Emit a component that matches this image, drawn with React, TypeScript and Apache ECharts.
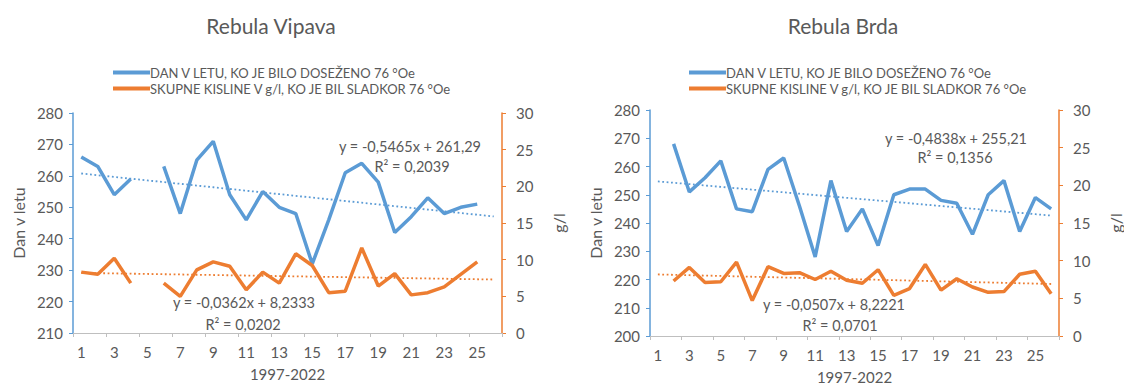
import React, { useEffect, useRef } from "react";
import * as echarts from "echarts";

// Years 1997-2022 numbered 1..26
const categories: string[] = Array.from({ length: 26 }, (_, i) => String(i + 1));

// Rebula Vipava
const vipavaDay: (number | null)[] = [
  266, 263, 254, 259, null, 263, 248, 265, 271, 254, 246, 255, 250, 248, 232,
  246, 261, 264, 258, 242, 247, 253, 248, 250, 251, null,
];
const vipavaAcid: (number | null)[] = [
  8.3, 8.0, 10.2, 6.8, null, 6.8, 5.0, 8.6, 9.7, 9.1, 5.9, 8.3, 6.8, 10.8, 9.2,
  5.5, 5.7, 11.6, 6.4, 8.1, 5.2, 5.5, 6.3, 8.0, 9.7, null,
];
const vipavaDayTrend = { slope: -0.5465, intercept: 261.29, r2: "0,2039", eq: "y = -0,5465x + 261,29" };
const vipavaAcidTrend = { slope: -0.0362, intercept: 8.2333, r2: "0,0202", eq: "y = -0,0362x + 8,2333" };

// Rebula Brda
const brdaDay: (number | null)[] = [
  null, 268, 251, 256, 262, 245, 244, 259, 263, 246, 228, 255, 237, 245, 232,
  250, 252, 252, 248, 247, 236, 250, 255, 237, 249, 245,
];
const brdaAcid: (number | null)[] = [
  null, 7.3, 9.1, 7.1, 7.2, 9.8, 4.7, 9.2, 8.3, 8.4, 7.5, 8.6, 7.4, 7.0, 8.8,
  5.4, 6.3, 9.5, 6.1, 7.6, 6.5, 5.8, 5.9, 8.2, 8.6, 5.6,
];
const brdaDayTrend = { slope: -0.4838, intercept: 255.21, r2: "0,1356", eq: "y = -0,4838x + 255,21" };
const brdaAcidTrend = { slope: -0.0507, intercept: 8.2221, r2: "0,0701", eq: "y = -0,0507x + 8,2221" };

const SERIES_DAY = "DAN V LETU, KO JE BILO DOSEŽENO 76 °Oe";
const SERIES_ACID = "SKUPNE KISLINE V g/l, KO JE BIL SLADKOR 76 °Oe";

const BLUE = "#5B9BD5";
const ORANGE = "#ED7D31";
const GREY = "#595959";
const FONT = "Lato, 'Open Sans', sans-serif";

const trendValues = (t: { slope: number; intercept: number }) =>
  categories.map((c) => +(t.slope * Number(c) + t.intercept).toFixed(3));

export default function App() {
  const ref = useRef<HTMLDivElement>(null);

  useEffect(() => {
    document.body.style.margin = "0";
    if (!ref.current) return;
    const chart = echarts.init(ref.current, undefined, { renderer: "svg" });

    const xAxisBase = (gridIndex: number) => ({
      type: "category" as const,
      gridIndex,
      data: categories,
      boundaryGap: true,
      name: "1997-2022",
      nameLocation: "middle" as const,
      nameGap: 33,
      nameTextStyle: { color: GREY, fontSize: 15, fontFamily: FONT },
      axisLine: { lineStyle: { color: "#BFBFBF", width: 1 } },
      axisTick: { show: true, length: 4, lineStyle: { color: "#BFBFBF" } },
      axisLabel: { interval: 1, color: GREY, fontSize: 15, fontFamily: FONT, margin: 11 },
      splitLine: { show: false },
    });

    const leftAxis = (gridIndex: number, min: number) => ({
      type: "value" as const,
      gridIndex,
      position: "left" as const,
      min,
      max: 280,
      interval: 10,
      name: "Dan v letu",
      nameLocation: "middle" as const,
      nameGap: 47,
      nameTextStyle: { color: GREY, fontSize: 16, fontFamily: FONT },
      axisLine: { show: true, lineStyle: { color: BLUE, width: 1.5 } },
      axisTick: { show: true, length: 4, lineStyle: { color: BLUE } },
      axisLabel: { color: GREY, fontSize: 15, fontFamily: FONT, margin: 10 },
      splitLine: { show: false },
    });

    const rightAxis = (gridIndex: number) => ({
      type: "value" as const,
      gridIndex,
      position: "right" as const,
      min: 0,
      max: 30,
      interval: 5,
      name: "g/l",
      nameLocation: "middle" as const,
      nameGap: 48,
      nameRotate: 90,
      nameTextStyle: { color: GREY, fontSize: 16, fontFamily: FONT },
      axisLine: { show: true, lineStyle: { color: ORANGE, width: 1.5 } },
      axisTick: { show: true, length: 4, lineStyle: { color: ORANGE } },
      axisLabel: { color: GREY, fontSize: 15, fontFamily: FONT, margin: 14 },
      splitLine: { show: false },
    });

    const dataLine = (name: string, data: (number | null)[], color: string, xi: number, yi: number) => ({
      name,
      type: "line" as const,
      xAxisIndex: xi,
      yAxisIndex: yi,
      data,
      symbol: "none",
      connectNulls: false,
      lineStyle: { color, width: 3.5 },
      itemStyle: { color },
      z: 3,
    });

    const trendLine = (name: string, t: { slope: number; intercept: number }, color: string, xi: number, yi: number) => ({
      name,
      type: "line" as const,
      xAxisIndex: xi,
      yAxisIndex: yi,
      data: trendValues(t),
      symbol: "none",
      lineStyle: { color, width: 1.8, type: [1.8, 2.6] },
      itemStyle: { color },
      z: 2,
      silent: true,
    });

    const legend = (left: number) => ({
      left,
      top: 61,
      orient: "vertical" as const,
      data: [SERIES_DAY, SERIES_ACID],
      icon: "rect",
      itemWidth: 37,
      itemHeight: 4,
      itemGap: 3,
      selectedMode: false,
      textStyle: { color: GREY, fontSize: 13, fontFamily: FONT, padding: [0, 0, 0, -5] },
    });

    const eqText = (x: number, y: number, text: string) => ({
      type: "text" as const,
      x,
      y,
      style: {
        text,
        fill: GREY,
        font: `14.5px ${FONT}`,
        textAlign: "center",
        textVerticalAlign: "middle",
      },
    });

    chart.setOption({
      animation: false,
      backgroundColor: "#ffffff",
      title: [
        {
          text: "Rebula Vipava",
          left: 266,
          top: 10,
          textAlign: "center",
          textStyle: { color: GREY, fontSize: 21, fontWeight: "normal", fontFamily: FONT },
        },
        {
          text: "Rebula Brda",
          left: 838,
          top: 10,
          textAlign: "center",
          textStyle: { color: GREY, fontSize: 21, fontWeight: "normal", fontFamily: FONT },
        },
      ],
      legend: [legend(108), legend(684)],
      grid: [
        { left: 73, right: 622, top: 113, bottom: 56 },
        { left: 650, right: 63, top: 110, bottom: 53 },
      ],
      xAxis: [xAxisBase(0), xAxisBase(1)],
      yAxis: [leftAxis(0, 210), rightAxis(0), leftAxis(1, 200), rightAxis(1)],
      series: [
        trendLine("trend-vipava-day", vipavaDayTrend, BLUE, 0, 0),
        trendLine("trend-vipava-acid", vipavaAcidTrend, ORANGE, 0, 1),
        dataLine(SERIES_DAY, vipavaDay, BLUE, 0, 0),
        dataLine(SERIES_ACID, vipavaAcid, ORANGE, 0, 1),
        trendLine("trend-brda-day", brdaDayTrend, BLUE, 1, 2),
        trendLine("trend-brda-acid", brdaAcidTrend, ORANGE, 1, 3),
        dataLine(SERIES_DAY, brdaDay, BLUE, 1, 2),
        dataLine(SERIES_ACID, brdaAcid, ORANGE, 1, 3),
      ],
      graphic: [
        eqText(410, 146, vipavaDayTrend.eq),
        eqText(412, 166, `R² = ${vipavaDayTrend.r2}`),
        eqText(244, 302, vipavaAcidTrend.eq),
        eqText(243, 324, `R² = ${vipavaAcidTrend.r2}`),
        eqText(956, 138, brdaDayTrend.eq),
        eqText(955, 157, `R² = ${brdaDayTrend.r2}`),
        eqText(834, 304, brdaAcidTrend.eq),
        eqText(840, 325, `R² = ${brdaAcidTrend.r2}`),
      ],
    });

    return () => chart.dispose();
  }, []);

  return <div ref={ref} style={{ width: 1124, height: 389 }} />;
}
